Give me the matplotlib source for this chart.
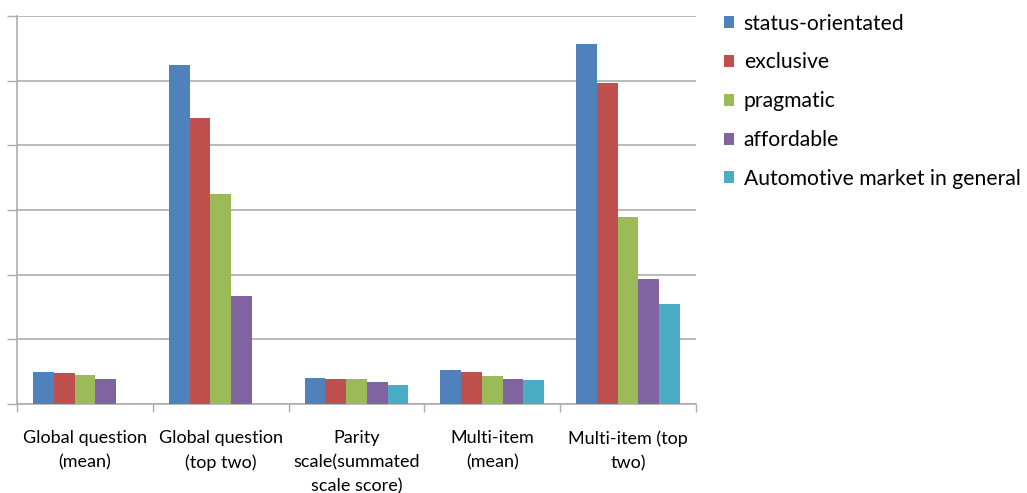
import numpy as np
import matplotlib.pyplot as plt

plt.rcParams['font.family'] = ['Lato', 'DejaVu Sans']

categories = ['Global question\n(mean)', 'Global question\n(top two)',
              'Parity\nscale(summated\nscale score)', 'Multi-item\n(mean)',
              'Multi-item (top\ntwo)']
series = ['status-orientated', 'exclusive', 'pragmatic', 'affordable',
          'Automotive market in general']
status_orientated = [0.50, 5.25, 0.41, 0.52, 5.57]
exclusive = [0.48, 4.42, 0.38, 0.50, 4.97]
pragmatic = [0.45, 3.25, 0.38, 0.43, 2.89]
affordable = [0.38, 1.67, 0.34, 0.39, 1.94]
automotive = [np.nan, np.nan, 0.30, 0.37, 1.55]

colors = ['#4F81BD', '#C0504D', '#9BBB59', '#8064A2', '#4BACC6']
values = [status_orientated, exclusive, pragmatic, affordable, automotive]

fig = plt.figure(figsize=(10.27, 4.93), dpi=100)
ax = fig.add_axes([0.0166, 0.1805, 0.661, 0.787])

x = np.arange(len(categories))
w = 0.1525
for i, (name, vals, c) in enumerate(zip(series, values, colors)):
    ax.bar(x + (i - 2) * w, vals, width=w, color=c, label=name, zorder=3)

ax.set_xlim(-0.5, len(categories) - 0.5)
ax.set_ylim(0, 6)
ax.set_yticks(range(7))
ax.set_yticklabels([])
ax.yaxis.grid(True, color='#adadad', linewidth=1.2, zorder=0)
ax.tick_params(axis='y', length=7, color='#adadad', width=1)

ax.set_xticks(np.arange(-0.5, len(categories)), minor=False)
ax.set_xticklabels([])
ax.set_xticks(x, minor=True)
ax.set_xticklabels(categories, minor=True, fontsize=13, linespacing=1.6)
ax.tick_params(axis='x', which='major', length=6, color='#adadad', width=1)
ax.tick_params(axis='x', which='minor', length=0, pad=19)

for s in ['top', 'right']:
    ax.spines[s].set_visible(False)
for s in ['left', 'bottom']:
    ax.spines[s].set_color('#adadad')
    ax.spines[s].set_linewidth(1.2)

ax.legend(loc='upper left', bbox_to_anchor=(1.013, 1.055), frameon=False,
          fontsize=15.2, handlelength=0.5, handleheight=0.5,
          handletextpad=0.45, labelspacing=0.89)

fig.savefig('out.png', dpi=100)
